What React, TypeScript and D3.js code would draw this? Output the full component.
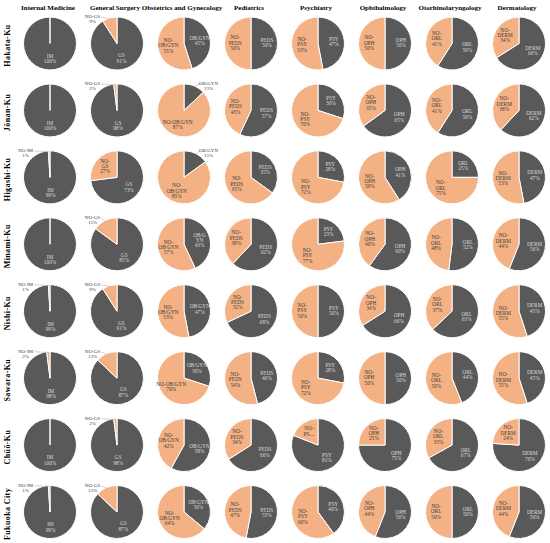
import React from "react";
import * as d3 from "d3";

const rows = ["Hakata-Ku", "Jōnan-Ku", "Higashi-Ku", "Minami-Ku", "Nishi-Ku", "Sawara-Ku", "Chūō-Ku", "Fukuoka City"];
const departments = ["Internal Medicine", "General Surgery", "Obstetrics and Gynecology", "Pediatrics", "Psychiatry", "Ophthalmology", "Otorhinolaryngology", "Dermatology"];
const abbreviations = ["IM", "GS", "OB/GYN", "PEDS", "PSY", "OPH", "ORL", "DERM"];

// share (%) of the department per ward, in row order
const imShare = [100, 100, 99, 100, 99, 98, 100, 99];
const gsShare = [91, 98, 73, 85, 91, 87, 98, 87];
const obgynShare = [45, 13, 15, 43, 47, 30, 58, 36];
const pedsShare = [50, 57, 35, 62, 68, 46, 66, 53];
const psyShare = [47, 30, 28, 23, 50, 28, 81, 40];
const ophShare = [50, 65, 41, 60, 66, 50, 75, 56];
const orlShare = [59, 59, 25, 52, 63, 44, 67, 50];
const dermShare = [66, 62, 47, 56, 45, 45, 76, 56];

const shares = [imShare, gsShare, obgynShare, pedsShare, psyShare, ophShare, orlShare, dermShare];

// label text overrides (as the original wraps them)
const labelOverrides: Record<string, string[]> = {
  "Minami-Ku|OB/GYN|in": ["OB/G", "YN"],
  "Jōnan-Ku|NO-OB/GYN|in": ["NO-OB/GYN"],
  "Sawara-Ku|NO-OB/GYN|in": ["NO-OB/GYN"],
  "Chūō-Ku|NO-PSY|in": ["NO-", "PS…"],
};

const W = 550;
const H = 543;
const R = 26.5;
const DARK = "#595959";
const ORANGE = "#F4B183";
const SERIF = "'Liberation Serif', 'Times New Roman', serif";

export default function App() {
  const x = d3.scalePoint<string>().domain(departments).range([50, 519]);
  const y = d3.scalePoint<string>().domain(rows).range([43.5, 512]);
  const pie = d3.pie<number>().sort(null).value((d) => d);
  const arc = d3.arc<d3.PieArcDatum<number>>().innerRadius(0).outerRadius(R);
  const labelArc = d3.arc<d3.PieArcDatum<number>>().innerRadius(R * 0.6).outerRadius(R * 0.6);

  const lineH = 5.4;

  const cells: React.ReactNode[] = [];
  rows.forEach((row, ri) => {
    departments.forEach((dep, ci) => {
      const cx = x(dep)!;
      const cy = y(row)!;
      const v = shares[ci][ri];
      const arcs = pie([v, 100 - v]);
      const abbr = abbreviations[ci];
      const elems: React.ReactNode[] = [];
      arcs.forEach((a, i) => {
        elems.push(
          <path key={"p" + i} d={arc(a) || ""} fill={i === 0 ? DARK : ORANGE} stroke="#ffffff" strokeWidth={1} strokeLinejoin="round" />
        );
      });
      arcs.forEach((a, i) => {
        const val = a.data;
        if (val <= 0) return;
        const name = i === 0 ? abbr : "NO-" + abbr;
        const outside = val <= 15;
        if (!outside) {
          const [lx, ly] = labelArc.centroid(a);
          const key = `${row}|${name}|in`;
          let lines: string[];
          if (labelOverrides[key]) {
            lines = [...labelOverrides[key]];
            if (!(row === "Chūō-Ku" && name === "NO-PSY")) lines.push(val + "%");
          } else if (i === 0) lines = [abbr, val + "%"];
          else lines = ["NO-", abbr, val + "%"];
          elems.push(
            <text key={"t" + i} x={lx} y={ly} fontFamily={SERIF} fontSize={5.3} fill={i === 0 ? "#d9d9d9" : "#404040"} textAnchor="middle">
              {lines.map((l, li) => (
                <tspan key={li} x={lx} y={ly + (li - (lines.length - 1) / 2) * lineH} dominantBaseline="middle">{l}</tspan>
              ))}
            </text>
          );
        } else {
          const mid = (a.startAngle + a.endAngle) / 2;
          const side = i === 0 ? 1 : -1;
          const lx = side * 24.5;
          const ly = -24;
          const px = Math.sin(mid) * R * 0.97;
          const py = -Math.cos(mid) * R * 0.97;
          const lines = [name, val + "%"];
          const oh = 4.8;
          elems.push(
            <polyline key={"l" + i} points={`${lx - side * 8.5},${ly - oh / 2} ${px},${py}`} fill="none" stroke="#a6a6a6" strokeWidth={0.5} />
          );
          elems.push(
            <text key={"t" + i} x={lx} y={ly} fontFamily={SERIF} fontSize={5} fill="#404040" textAnchor="middle">
              {lines.map((l, li) => (
                <tspan key={li} x={lx} y={ly + (li - (lines.length - 1) / 2) * oh} dominantBaseline="middle">{l}</tspan>
              ))}
            </text>
          );
        }
      });
      cells.push(
        <g key={row + dep} transform={`translate(${cx},${cy})`}>{elems}</g>
      );
    });
  });

  return (
    <div style={{ position: "absolute", left: 0, top: 0 }}>
      <svg width={W} height={H} viewBox={`0 0 ${W} ${H}`} style={{ display: "block", background: "#fff" }}>
        {departments.map((d) => (
          <text key={d} x={x(d)! - 2} y={10} textAnchor="middle" fontFamily={SERIF} fontWeight="bold" fontSize={7} fill="#000">{d}</text>
        ))}
        {rows.map((r) => (
          <text key={r} transform={`translate(9.8,${y(r)! + 2}) rotate(-90)`} textAnchor="middle" fontFamily={SERIF} fontWeight="bold" fontSize={8} letterSpacing={0.4} fill="#000">{r}</text>
        ))}
        {cells}
      </svg>
    </div>
  );
}
